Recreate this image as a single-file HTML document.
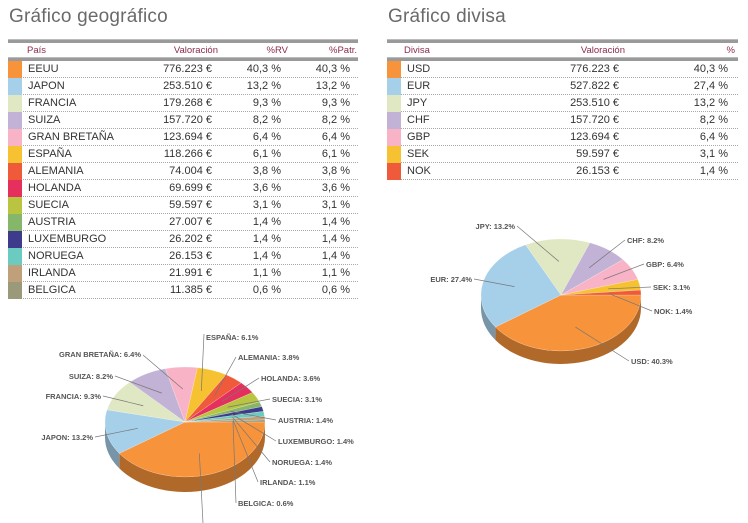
<!DOCTYPE html>
<html><head><meta charset="utf-8"><style>
body{margin:0;width:748px;height:523px;background:#fff;font-family:"Liberation Sans",sans-serif;position:relative;overflow:hidden}
.title{position:absolute;top:6px;font-size:19px;color:#6a6a6a;font-weight:300;letter-spacing:0.2px}
.tbl{position:absolute;top:39px}
.thick{height:3px;background:#9a9a9a;border-top:1px solid #bbb}
.hdr{height:14px;position:relative;font-size:9.5px;color:#8b2a4a}
.hdr span,.row span{position:absolute;white-space:nowrap}
.row{height:16px;position:relative;border-bottom:1px dotted #aaa;font-size:11px;color:#333;line-height:16px}
.sw{position:absolute;left:0;top:0;width:14px;height:17px}
svg text{font-family:"Liberation Sans",sans-serif;font-size:7.5px;font-weight:bold;fill:#555}
</style></head><body>
<div class="title" style="left:9px">Gráfico geográfico</div>
<div class="title" style="left:388px">Gráfico divisa</div>

<div class="tbl" id="geoTbl" style="left:8px;width:350px">
<div class="thick"></div>
<div class="hdr"><span style="left:19px;top:2px">País</span><span style="right:140px;top:2px">Valoración</span><span style="right:70px;top:2px">%RV</span><span style="right:1px;top:2px">%Patr.</span></div>
<div class="thick"></div>
</div>
<div class="tbl" id="curTbl" style="left:387px;width:351px">
<div class="thick"></div>
<div class="hdr"><span style="left:17px;top:2px">Divisa</span><span style="right:113px;top:2px">Valoración</span><span style="right:3px;top:2px">%</span></div>
<div class="thick"></div>
</div>

<svg id="svg" width="748" height="523" style="position:absolute;left:0;top:0"></svg>

<script>
const geoNames=["EEUU","JAPON","FRANCIA","SUIZA","GRAN BRETAÑA","ESPAÑA","ALEMANIA","HOLANDA","SUECIA","AUSTRIA","LUXEMBURGO","NORUEGA","IRLANDA","BELGICA"];
const geoValues=["776.223","253.510","179.268","157.720","123.694","118.266","74.004","69.699","59.597","27.007","26.202","26.153","21.991","11.385"];
const geoPct=[40.3,13.2,9.3,8.2,6.4,6.1,3.8,3.6,3.1,1.4,1.4,1.4,1.1,0.6];
const geoColors=["#f7933b","#a6cfe9","#dfe8c2","#c2b2d5","#f8b3c6","#f6c232","#ef5a3a","#e5305e","#b9c440","#86b66a","#3e3a8c","#6ccbc0","#c0a07a","#9a9a7a"];
const curNames=["USD","EUR","JPY","CHF","GBP","SEK","NOK"];
const curValues=["776.223","527.822","253.510","157.720","123.694","59.597","26.153"];
const curPct=[40.3,27.4,13.2,8.2,6.4,3.1,1.4];
const curColors=["#f7933b","#a6cfe9","#dfe8c2","#c2b2d5","#f8b3c6","#f6c232","#ef5a3a"];
const fmt=v=>v.toFixed(1).replace('.',',')+' %';

function fillTable(id,names,vals,pcts,cols,cols2){
  const t=document.getElementById(id);
  names.forEach((n,i)=>{
    const r=document.createElement('div');r.className='row';
    
    
    let h='<div class="sw" style="background:'+cols[i]+'"></div><span style="left:20px">'+n+'</span><span style="right:'+cols2[0]+'px">'+vals[i]+' €</span><span style="right:'+cols2[1]+'px">'+fmt(pcts[i])+'</span>';
    if(cols2.length>2)h+='<span style="right:'+cols2[2]+'px">'+fmt(pcts[i])+'</span>';
    r.innerHTML=h;t.appendChild(r);
  });
}
fillTable('geoTbl',geoNames,geoValues,geoPct,geoColors,[146,77,8]);
fillTable('curTbl',curNames,curValues,curPct,curColors,[119,10]);

const svg=document.getElementById('svg');const NS='http://www.w3.org/2000/svg';
function shade(c,f){const n=parseInt(c.slice(1),16);const r=(n>>16)*f,g=((n>>8)&255)*f,b=(n&255)*f;return 'rgb('+(r|0)+','+(g|0)+','+(b|0)+')';}
function mk(tag,attrs,name){const e=document.createElementNS(NS,tag);for(const k in attrs)e.setAttribute(k,attrs[k]);
  
  
  svg.appendChild(e);return e;}
function pie(cx,cy,rx,ry,d,pcts,cols,names,labels,prefix){
  const tot=pcts.reduce((a,b)=>a+b,0);let a=0;const sl=[];
  pcts.forEach(p=>{const a1=a+p/tot*2*Math.PI;sl.push([a,a1]);a=a1;});
  const P=(t,dy)=>[cx+rx*Math.cos(t),cy+ry*Math.sin(t)+(dy||0)];
  // sides
  sl.forEach(([a0,a1],i)=>{
    const s=Math.max(a0,0),e=Math.min(a1,Math.PI);if(e<=s)return;
    const p0=P(s),p1=P(e),q1=P(e,d),q0=P(s,d);
    mk('path',{d:`M${p0}A${rx},${ry} 0 0 1 ${p1}L${q1}A${rx},${ry} 0 0 0 ${q0}Z`,fill:shade(cols[i],0.72)},prefix+'-side-'+names[i].toLowerCase().replace(/\s/g,'-'));
  });
  sl.forEach(([a0,a1],i)=>{
    const p0=P(a0),p1=P(a1),lg=(a1-a0)>Math.PI?1:0;
    mk('path',{d:`M${cx},${cy}L${p0}A${rx},${ry} 0 ${lg} 1 ${p1}Z`,fill:cols[i],stroke:'rgba(255,255,255,0.4)','stroke-width':0.5},prefix+'-slice-'+names[i].toLowerCase().replace(/\s/g,'-'));
  });
  sl.forEach(([a0,a1],i)=>{
    const L=labels[i];if(!L)return;const m=(a0+a1)/2;const pt=[cx+rx*0.6*Math.cos(m),cy+ry*0.6*Math.sin(m)];
    mk('line',{x1:L[2],y1:L[3],x2:pt[0],y2:pt[1],stroke:'#777','stroke-width':0.7},prefix+'-leader-'+names[i].toLowerCase().replace(/\s/g,'-'));
    if(L[0]!==null){const t=mk('text',{x:L[0],y:L[1],'text-anchor':L[4]||'start'},prefix+'-label-'+names[i].toLowerCase().replace(/\s/g,'-'));
    t.textContent=names[i]+': '+pcts[i].toFixed(1)+'%';}
  });
}
const geoLabelPos=[[null,0,203,523],[93,440,95,437,'end'],[101,399,103,396,'end'],[113,379,115,376,'end'],[141,357,143,355,'end'],[206,340,204,334],
[238,360,236,357],[261,381,259,378],[272,402,270,399],[278,423,276,420],[278,444,276,441],[272,465,270,462],[260,485,258,482],[238,506,236,503]];
pie(185,422,80,55,15,geoPct,geoColors,geoNames,geoLabelPos,'geo');
const curLabelPos=[[631,364,629,361],[472,282,474,279,'end'],[515,229,517,226,'end'],[627,243,625,240],[646,267,644,264],[653,290,651,287],[654,314,652,311]];
pie(561,295,80,56,13,curPct,curColors,curNames,curLabelPos,'currency');
</script>
</body></html>
